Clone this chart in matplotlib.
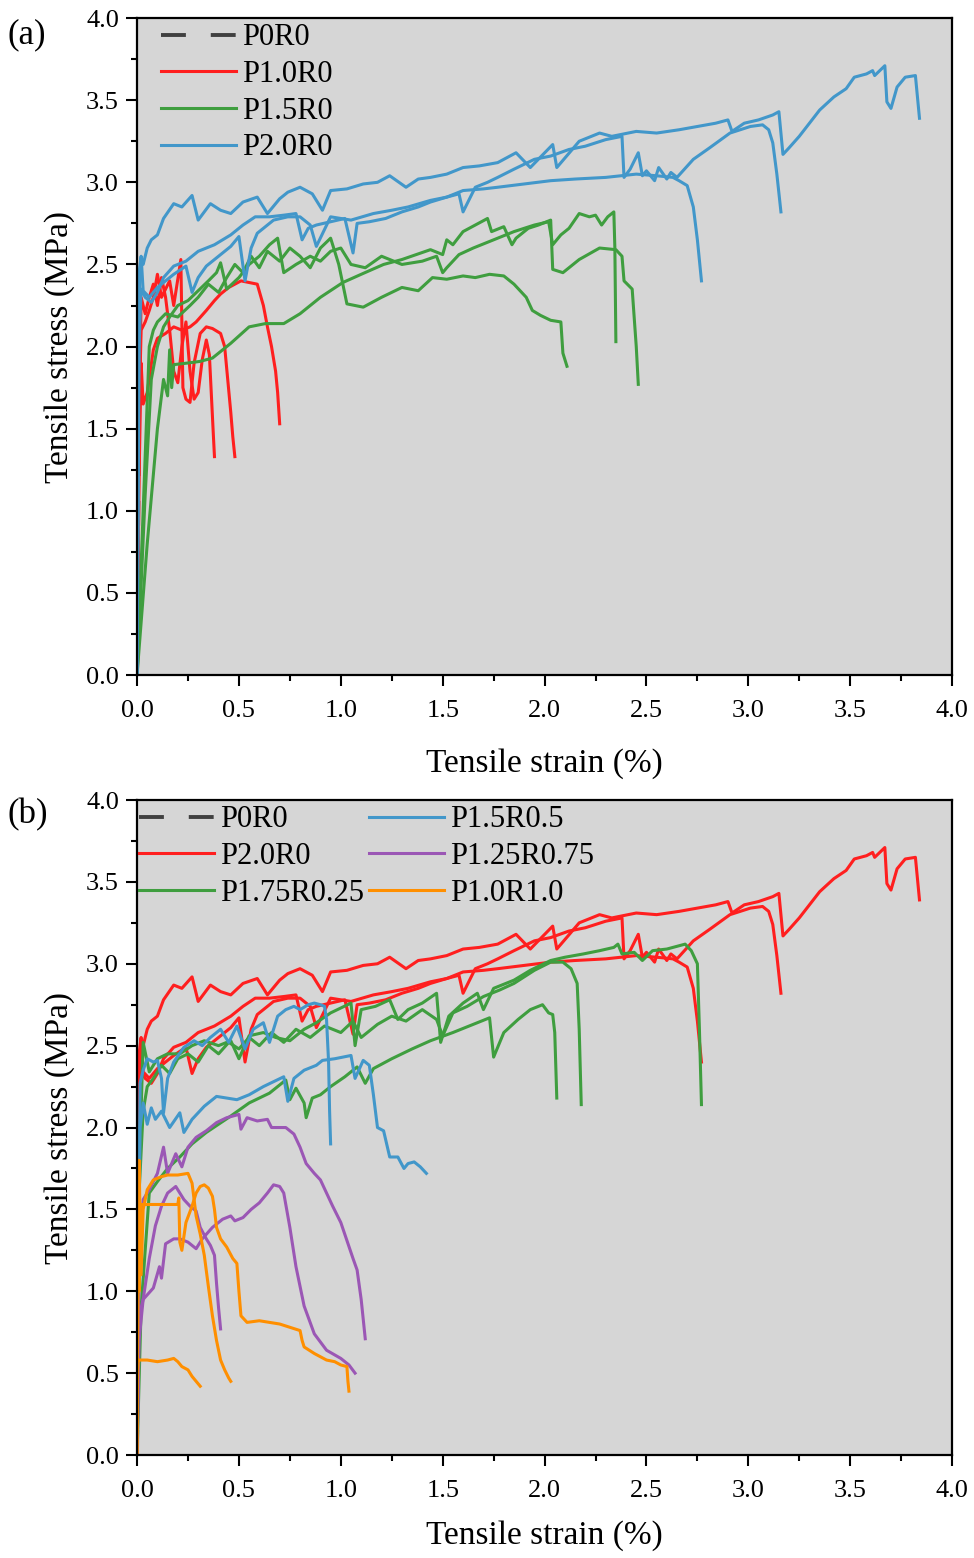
import matplotlib.pyplot as plt
from matplotlib.ticker import MultipleLocator

plt.rcParams['font.family'] = ['Liberation Serif', 'DejaVu Serif']

# ---- data: strain (%) / stress (MPa) ----
p0r0_strain = [0, 0.004, 0.008]
p0r0_stress = [0, 0.7, 1.32]

# P1.0R0 (three specimens)
p10r0_strain = [
    [0, 0.01, 0.02, 0.03, 0.05, 0.08, 0.10, 0.14, 0.18, 0.22, 0.26, 0.29, 0.34, 0.38, 0.41,
     0.45, 0.51, 0.55, 0.59, 0.62, 0.64, 0.66, 0.68, 0.69, 0.70],
    [0, 0.01, 0.02, 0.04, 0.06, 0.08, 0.10, 0.12, 0.14, 0.16, 0.18, 0.20, 0.22, 0.24, 0.26,
     0.28, 0.30, 0.32, 0.34, 0.355, 0.365, 0.375, 0.38],
    [0, 0.01, 0.02, 0.04, 0.06, 0.08, 0.10, 0.12, 0.14, 0.16, 0.18, 0.215, 0.225, 0.24, 0.26,
     0.28, 0.31, 0.34, 0.37, 0.41, 0.43, 0.445, 0.46, 0.47, 0.48],
]
p10r0_stress = [
    [0, 1.2, 1.9, 1.65, 1.72, 1.98, 2.05, 2.08, 2.12, 2.10, 2.12, 2.15, 2.22, 2.28, 2.32,
     2.36, 2.40, 2.39, 2.38, 2.25, 2.12, 2.0, 1.85, 1.72, 1.53],
    [0, 1.5, 2.3, 2.2, 2.3, 2.38, 2.25, 2.42, 2.3, 2.1, 1.85, 1.78, 2.0, 2.15, 1.85,
     1.68, 1.72, 1.92, 2.04, 1.95, 1.7, 1.45, 1.33],
    [0, 1.6, 2.1, 2.15, 2.22, 2.3, 2.44, 2.3, 2.35, 2.4, 2.25, 2.53, 1.75, 1.68, 1.66,
     1.9, 2.08, 2.12, 2.11, 2.08, 2.0, 1.8, 1.6, 1.45, 1.33],
]

# P1.5R0
p15r0_strain = [
    [0, 0.03, 0.06, 0.08, 0.10, 0.14, 0.2, 0.26, 0.3, 0.35, 0.4, 0.44, 0.48, 0.52, 0.56, 0.6,
     0.64, 0.7, 0.75, 0.8, 0.85, 0.9, 0.95, 0.99, 1.03, 1.11, 1.2, 1.3, 1.38, 1.45, 1.52, 1.6,
     1.66, 1.73, 1.8, 1.85, 1.91, 1.94, 1.98, 2.03, 2.08, 2.09, 2.11],
    [0, 0.05, 0.10, 0.13, 0.15, 0.16, 0.17, 0.18, 0.25, 0.31, 0.37, 0.42, 0.46, 0.55, 0.63,
     0.72, 0.8, 0.9, 1.01, 1.1, 1.21, 1.3, 1.44, 1.5, 1.52, 1.55, 1.6, 1.66, 1.72, 1.74, 1.8,
     1.84, 1.86, 1.92, 1.97, 2.03, 2.04, 2.09, 2.17, 2.27, 2.35, 2.38, 2.39, 2.43, 2.45, 2.46],
    [0, 0.04, 0.07, 0.1, 0.13, 0.16, 0.2, 0.25, 0.3, 0.35, 0.39, 0.41, 0.44, 0.5, 0.55, 0.6,
     0.65, 0.69, 0.72, 0.78, 0.85, 0.9, 0.95, 1.0, 1.05, 1.12, 1.2, 1.3, 1.4, 1.47, 1.5, 1.52,
     1.58, 1.65, 1.75, 1.85, 1.95, 2.02, 2.04, 2.08, 2.12, 2.17, 2.22, 2.25, 2.28, 2.31, 2.34,
     2.345, 2.35],
]
p15r0_stress = [
    [0, 1.0, 2.0, 2.1, 2.15, 2.2, 2.18, 2.25, 2.3, 2.38, 2.33, 2.42, 2.5, 2.45, 2.55, 2.48,
     2.58, 2.52, 2.6, 2.55, 2.48, 2.6, 2.66, 2.5, 2.26, 2.24, 2.3, 2.36, 2.34, 2.42, 2.41, 2.43,
     2.42, 2.44, 2.43, 2.38, 2.30, 2.22, 2.19, 2.16, 2.15, 1.96, 1.88],
    [0, 0.8, 1.5, 1.8, 1.7, 1.98, 1.75, 1.89, 1.9, 1.91, 1.93, 1.98, 2.02, 2.12, 2.14,
     2.14, 2.2, 2.3, 2.39, 2.44, 2.5, 2.53, 2.59, 2.56, 2.65, 2.62, 2.7, 2.74, 2.78, 2.7, 2.73,
     2.62, 2.66, 2.72, 2.74, 2.77, 2.47, 2.45, 2.53, 2.60, 2.59, 2.55, 2.40, 2.35, 2.0, 1.77],
    [0, 1.1, 1.8, 2.0, 2.12, 2.18, 2.25, 2.28, 2.34, 2.40, 2.45, 2.51, 2.35, 2.42, 2.5, 2.55,
     2.62, 2.66, 2.45, 2.5, 2.55, 2.52, 2.58, 2.6, 2.5, 2.48, 2.55, 2.5, 2.52, 2.55, 2.45, 2.48,
     2.56, 2.6, 2.65, 2.7, 2.74, 2.76, 2.62, 2.68, 2.72, 2.81, 2.79, 2.80, 2.74, 2.79, 2.82,
     2.6, 2.03],
]

# P2.0R0
p20r0_strain = [
    [0, 0.005, 0.01, 0.02, 0.03, 0.05, 0.07, 0.1, 0.13, 0.18, 0.22, 0.27, 0.30, 0.36, 0.41,
     0.46, 0.52, 0.59, 0.64, 0.70, 0.74, 0.80, 0.86, 0.91, 0.95, 1.03, 1.11, 1.18, 1.24, 1.32,
     1.38, 1.44, 1.52, 1.60, 1.68, 1.77, 1.86, 1.93, 2.04, 2.06, 2.17, 2.27, 2.33, 2.37, 2.45,
     2.55, 2.66, 2.75, 2.84, 2.90, 2.92, 2.98, 3.05, 3.12, 3.15, 3.17, 3.20, 3.25, 3.30, 3.35,
     3.42, 3.48, 3.52, 3.58, 3.61, 3.62, 3.67, 3.68, 3.70, 3.73, 3.77, 3.82, 3.83, 3.84],
    [0, 0.005, 0.01, 0.02, 0.04, 0.07, 0.10, 0.13, 0.18, 0.24, 0.30, 0.38, 0.46, 0.52, 0.58,
     0.65, 0.72, 0.78, 0.81, 0.84, 0.88, 0.95, 1.02, 1.06, 1.08, 1.14, 1.22, 1.30, 1.38, 1.44,
     1.52, 1.58, 1.60, 1.66, 1.72, 1.77, 1.85, 1.95, 2.03, 2.12, 2.20, 2.30, 2.38, 2.39, 2.42,
     2.46, 2.48, 2.50, 2.54, 2.56, 2.60, 2.62, 2.65, 2.73, 2.81, 2.91, 3.01, 3.07, 3.10, 3.12,
     3.14, 3.16],
    [0, 0.005, 0.01, 0.02, 0.03, 0.06, 0.10, 0.13, 0.18, 0.24, 0.27, 0.30, 0.34, 0.40, 0.46,
     0.50, 0.53, 0.56, 0.59, 0.67, 0.74, 0.80, 0.85, 0.88, 0.95, 1.05, 1.16, 1.25, 1.33, 1.44,
     1.52, 1.60, 1.70, 1.77, 1.90, 2.03, 2.15, 2.30, 2.45, 2.55, 2.63, 2.66, 2.70, 2.73, 2.75,
     2.77],
]
p20r0_stress = [
    [0, 1.2, 2.3, 2.52, 2.5, 2.6, 2.65, 2.68, 2.78, 2.87, 2.85, 2.92, 2.77, 2.87, 2.83,
     2.81, 2.88, 2.91, 2.81, 2.9, 2.94, 2.97, 2.93, 2.83, 2.95, 2.96, 2.99, 3.0, 3.04, 2.97,
     3.02, 3.03, 3.05, 3.09, 3.1, 3.12, 3.18, 3.09, 3.23, 3.09, 3.25, 3.30, 3.28, 3.29, 3.31,
     3.3, 3.32, 3.34, 3.36, 3.38, 3.31, 3.36, 3.38, 3.41, 3.43, 3.17, 3.21, 3.28, 3.36, 3.44,
     3.52, 3.57, 3.64, 3.66, 3.68, 3.65, 3.71, 3.49, 3.45, 3.58, 3.64, 3.65, 3.52, 3.39],
    [0, 1.0, 2.0, 2.35, 2.3, 2.27, 2.33, 2.42, 2.49, 2.52, 2.58, 2.62, 2.68, 2.74, 2.79,
     2.79, 2.80, 2.81, 2.65, 2.72, 2.74, 2.76, 2.78, 2.57, 2.75, 2.76, 2.78, 2.82, 2.85, 2.88,
     2.91, 2.93, 2.82, 2.97, 3.0, 3.03, 3.08, 3.14, 3.16, 3.2, 3.22, 3.26, 3.28, 3.03, 3.08,
     3.18, 3.04, 3.07, 3.01, 3.09, 3.02, 3.06, 3.03, 3.14, 3.21, 3.30, 3.34, 3.35, 3.32, 3.24,
     3.05, 2.82],
    [0, 1.3, 2.45, 2.55, 2.34, 2.30, 2.36, 2.39, 2.44, 2.49, 2.33, 2.42, 2.49, 2.55, 2.61,
     2.67, 2.40, 2.60, 2.69, 2.77, 2.79, 2.79, 2.74, 2.61, 2.79, 2.77, 2.81, 2.83, 2.85, 2.89,
     2.91, 2.95, 2.96, 2.97, 2.99, 3.01, 3.02, 3.03, 3.05, 3.04, 3.03, 3.01, 2.98, 2.85, 2.65,
     2.40],
]

# P1.75R0.25
p175_strain = [
    [0, 0.02, 0.06, 0.1, 0.15, 0.21, 0.27, 0.34, 0.4, 0.46, 0.55, 0.65, 0.73, 0.75, 0.78,
     0.82, 0.83, 0.86, 0.9, 0.95, 1.02, 1.08, 1.12, 1.16, 1.25, 1.35, 1.44, 1.55, 1.65, 1.73,
     1.75, 1.8, 1.87, 1.93, 1.99, 2.02, 2.04, 2.05, 2.06],
    [0, 0.01, 0.03, 0.05, 0.08, 0.12, 0.16, 0.2, 0.25, 0.3, 0.35, 0.4, 0.45, 0.5, 0.55, 0.6,
     0.66, 0.72, 0.78, 0.85, 0.92, 1.0, 1.06, 1.1, 1.18, 1.25, 1.32, 1.4, 1.47, 1.5, 1.55,
     1.62, 1.7, 1.78, 1.85, 1.95, 2.03, 2.09, 2.13, 2.16, 2.17, 2.18],
    [0, 0.01, 0.03, 0.06, 0.1, 0.15, 0.21, 0.27, 0.33, 0.4, 0.46, 0.5, 0.55, 0.62, 0.68,
     0.75, 0.82, 0.88, 0.95, 1.05, 1.07, 1.1, 1.17, 1.24, 1.28, 1.33, 1.4, 1.47, 1.49, 1.53,
     1.6, 1.67, 1.7, 1.75, 1.85, 1.93, 2.03, 2.1, 2.19, 2.27, 2.34, 2.36, 2.38, 2.44, 2.48,
     2.53, 2.6, 2.69, 2.72, 2.75, 2.76, 2.77],
]
p175_stress = [
    [0, 0.9, 1.6, 1.67, 1.75, 1.82, 1.9, 1.97, 2.02, 2.07, 2.15, 2.21, 2.29, 2.17, 2.24,
     2.15, 2.06, 2.18, 2.2, 2.25, 2.31, 2.37, 2.27, 2.36, 2.42, 2.48, 2.53, 2.58, 2.63, 2.67,
     2.43, 2.58, 2.66, 2.72, 2.75, 2.70, 2.69, 2.58, 2.18],
    [0, 1.6, 2.1, 2.25, 2.3, 2.38, 2.33, 2.42, 2.45, 2.4, 2.5, 2.45, 2.52, 2.48, 2.55, 2.5,
     2.58, 2.52, 2.6, 2.55, 2.62, 2.58, 2.65, 2.55, 2.63, 2.68, 2.65, 2.72, 2.66, 2.56, 2.7,
     2.74, 2.8, 2.84, 2.88, 2.96, 3.01, 3.01, 2.97, 2.88, 2.6, 2.14],
    [0, 1.7, 2.52, 2.34, 2.42, 2.45, 2.45, 2.5, 2.53, 2.5, 2.53, 2.42, 2.56, 2.58, 2.55,
     2.53, 2.6, 2.64, 2.7, 2.76, 2.5, 2.72, 2.74, 2.78, 2.66, 2.72, 2.76, 2.82, 2.52, 2.68,
     2.76, 2.82, 2.72, 2.85, 2.9, 2.96, 3.02, 3.04, 3.06, 3.08, 3.10, 3.12, 3.06, 3.07, 3.02,
     3.08, 3.09, 3.12, 3.08, 3.0, 2.6, 2.14],
]

# P1.5R0.5
p15r05_strain = [
    [0, 0.005, 0.015, 0.03, 0.05, 0.08, 0.1, 0.12, 0.13, 0.15, 0.18, 0.23, 0.28, 0.32, 0.36,
     0.41, 0.45, 0.49, 0.53, 0.57, 0.62, 0.65, 0.69, 0.73, 0.77, 0.8, 0.84, 0.87, 0.9, 0.92,
     0.93, 0.94, 0.945, 0.95],
    [0, 0.005, 0.015, 0.03, 0.05, 0.07, 0.09, 0.12, 0.16, 0.21, 0.23, 0.27, 0.33, 0.39, 0.44,
     0.49, 0.55, 0.62, 0.67, 0.72, 0.74, 0.77, 0.82, 0.88, 0.91, 0.97, 1.05, 1.07, 1.11, 1.14,
     1.16, 1.18, 1.21, 1.24, 1.28, 1.31, 1.33, 1.36, 1.39, 1.42],
]
p15r05_stress = [
    [0, 1.2, 2.27, 2.35, 2.42, 2.4, 2.41, 2.3, 2.09, 2.3, 2.4, 2.49, 2.53, 2.5, 2.55,
     2.6, 2.52, 2.62, 2.48, 2.6, 2.64, 2.52, 2.68, 2.72, 2.74, 2.72, 2.75, 2.76, 2.75, 2.74,
     2.66, 2.4, 2.1, 1.90],
    [0, 1.0, 2.0, 2.15, 2.02, 2.12, 2.05, 2.1, 2.0, 2.09, 1.97, 2.05, 2.13, 2.19, 2.18,
     2.17, 2.2, 2.25, 2.28, 2.31, 2.16, 2.3, 2.35, 2.38, 2.41, 2.42, 2.44, 2.30, 2.41, 2.38,
     2.2, 2.0, 1.98, 1.82, 1.82, 1.75, 1.78, 1.79, 1.76, 1.72],
]

# P1.25R0.75
p125_strain = [
    [0, 0.01, 0.03, 0.06, 0.1, 0.13, 0.15, 0.19, 0.22, 0.25, 0.29, 0.34, 0.39, 0.44, 0.5,
     0.51, 0.54, 0.59, 0.64, 0.66, 0.7, 0.73, 0.77, 0.8, 0.83, 0.87, 0.9, 0.93, 0.96, 1.0,
     1.03, 1.06, 1.08, 1.1, 1.11, 1.12],
    [0, 0.01, 0.03, 0.08, 0.11, 0.12, 0.14, 0.18, 0.21, 0.25, 0.29, 0.32, 0.37, 0.42, 0.46,
     0.48, 0.52, 0.56, 0.6, 0.64, 0.67, 0.7, 0.72, 0.75, 0.78, 0.82, 0.87, 0.93, 1.0, 1.04,
     1.07],
    [0, 0.01, 0.03, 0.06, 0.09, 0.12, 0.15, 0.19, 0.23, 0.26, 0.29, 0.31, 0.34, 0.36, 0.38,
     0.39, 0.40, 0.41],
]
p125_stress = [
    [0, 1.2, 1.56, 1.62, 1.72, 1.88, 1.72, 1.84, 1.76, 1.88, 1.94, 1.98, 2.03, 2.06, 2.08,
     1.99, 2.06, 2.04, 2.05, 2.0, 2.0, 2.0, 1.96, 1.88, 1.78, 1.72, 1.68, 1.6, 1.52, 1.42,
     1.31, 1.2, 1.13, 0.95, 0.83, 0.71],
    [0, 0.85, 0.95, 1.02, 1.15, 1.08, 1.29, 1.32, 1.32, 1.3, 1.26, 1.32, 1.39, 1.44, 1.46,
     1.43, 1.45, 1.5, 1.54, 1.6, 1.65, 1.64, 1.6, 1.39, 1.15, 0.91, 0.74, 0.64, 0.59, 0.55,
     0.50],
    [0, 0.7, 0.95, 1.2, 1.4, 1.52, 1.6, 1.64, 1.56, 1.52, 1.49, 1.39, 1.32, 1.28, 1.22,
     1.05, 0.9, 0.77],
]

# P1.0R1.0
p10r10_strain = [
    [0, 0.003, 0.006, 0.01, 0.05, 0.1, 0.15, 0.18, 0.2, 0.22, 0.25, 0.27, 0.29, 0.31],
    [0, 0.005, 0.01, 0.02, 0.03, 0.05, 0.08, 0.12, 0.15, 0.2, 0.25, 0.27, 0.29, 0.31, 0.33,
     0.35, 0.37, 0.39, 0.41, 0.43, 0.45, 0.46],
    [0, 0.005, 0.01, 0.015, 0.02, 0.05, 0.1, 0.15, 0.2, 0.205, 0.21, 0.22, 0.24, 0.27, 0.29,
     0.31, 0.33, 0.35, 0.37, 0.38, 0.39, 0.41, 0.44, 0.47, 0.49, 0.5, 0.51, 0.54, 0.6, 0.7,
     0.8, 0.81, 0.82, 0.87, 0.93, 0.97, 1.0, 1.03, 1.035, 1.04],
]
p10r10_stress = [
    [0.15, 0.5, 0.58, 0.58, 0.58, 0.57, 0.58, 0.59, 0.57, 0.54, 0.52, 0.48, 0.45, 0.42],
    [0, 1.2, 1.8, 1.1, 1.5, 1.62, 1.68, 1.7, 1.71, 1.71, 1.72, 1.66, 1.46, 1.35, 1.22,
     1.03, 0.85, 0.7, 0.58, 0.52, 0.47, 0.45],
    [0, 1.4, 1.0, 1.5, 1.53, 1.53, 1.53, 1.53, 1.53, 1.57, 1.3, 1.25, 1.42, 1.52, 1.6,
     1.64, 1.65, 1.63, 1.58, 1.5, 1.39, 1.32, 1.27, 1.2, 1.17, 1.0, 0.85, 0.81, 0.82, 0.80,
     0.76, 0.70, 0.66, 0.62, 0.58, 0.57, 0.55, 0.54, 0.45, 0.39],
]

xticks = [0.0, 0.5, 1.0, 1.5, 2.0, 2.5, 3.0, 3.5, 4.0]
yticks = [0.0, 0.5, 1.0, 1.5, 2.0, 2.5, 3.0, 3.5, 4.0]

RED = '#FF1F1F'
GREEN = '#3F9E3F'
BLUE = '#4297CA'
PURPLE = '#9B57B5'
ORANGE = '#FF8F00'
DARK = '#404040'
LW = 2.2


def draw_group(ax, xs, ys, color, label):
    for i, (x, y) in enumerate(zip(xs, ys)):
        ax.plot(x, y, color=color, lw=LW, solid_joinstyle='round',
                label=label if i == 0 else None)


def style_axes(ax, xlabelpad):
    ax.set_facecolor('#D6D6D6')
    ax.set_xlim(0, 4.0)
    ax.set_ylim(0, 4.0)
    ax.set_xticks(xticks)
    ax.set_yticks(yticks)
    ax.set_xticklabels([f'{v:.1f}' for v in xticks])
    ax.set_yticklabels([f'{v:.1f}' for v in yticks])
    ax.xaxis.set_minor_locator(MultipleLocator(0.25))
    ax.yaxis.set_minor_locator(MultipleLocator(0.25))
    ax.tick_params(which='major', direction='out', length=8, width=1.5,
                   labelsize=19, pad=5)
    ax.tick_params(axis='x', which='major', pad=10)
    ax.tick_params(which='minor', direction='out', length=4, width=1.5)
    for s in ax.spines.values():
        s.set_linewidth(1.6)
    ax.set_xlabel('Tensile strain (%)', fontsize=24, labelpad=xlabelpad)
    ax.set_ylabel('Tensile stress (MPa)', fontsize=24, labelpad=8)


fig = plt.figure(figsize=(9.74, 15.58), dpi=100)
ax1 = fig.add_axes([0.1407, 0.5667, 0.8368, 0.4217])
ax2 = fig.add_axes([0.1407, 0.0661, 0.8368, 0.4204])

leg_kw = dict(loc='upper left', frameon=False, fontsize=22, handlelength=2.45,
              handletextpad=0.2, labelspacing=0.25, borderpad=0, borderaxespad=0)

# (a)
ax1.plot(p0r0_strain, p0r0_stress, color=DARK, lw=LW + 0.6, dashes=(6.4, 6.4), label='P0R0')
draw_group(ax1, p10r0_strain, p10r0_stress, RED, 'P1.0R0')
draw_group(ax1, p15r0_strain, p15r0_stress, GREEN, 'P1.5R0')
draw_group(ax1, p20r0_strain, p20r0_stress, BLUE, 'P2.0R0')
style_axes(ax1, 19)
ax1.legend(bbox_to_anchor=(0.029, 0.992), **leg_kw)

# (b)
ax2.plot(p0r0_strain, p0r0_stress, color=DARK, lw=LW + 0.6, dashes=(6.4, 6.4), label='P0R0')
draw_group(ax2, p20r0_strain, p20r0_stress, RED, 'P2.0R0')
draw_group(ax2, p175_strain, p175_stress, GREEN, 'P1.75R0.25')
draw_group(ax2, p15r05_strain, p15r05_stress, BLUE, 'P1.5R0.5')
draw_group(ax2, p125_strain, p125_stress, PURPLE, 'P1.25R0.75')
draw_group(ax2, p10r10_strain, p10r10_stress, ORANGE, 'P1.0R1.0')
style_axes(ax2, 13)
ax2.legend(bbox_to_anchor=(0.003, 0.992), ncol=2, columnspacing=0.15, **leg_kw)

fig.text(0.008, 1 - 35 / 1558, '(a)', fontsize=25, va='center', ha='left')
fig.text(0.008, 1 - 815 / 1558, '(b)', fontsize=25, va='center', ha='left')

fig.savefig('out.png', dpi=100)
